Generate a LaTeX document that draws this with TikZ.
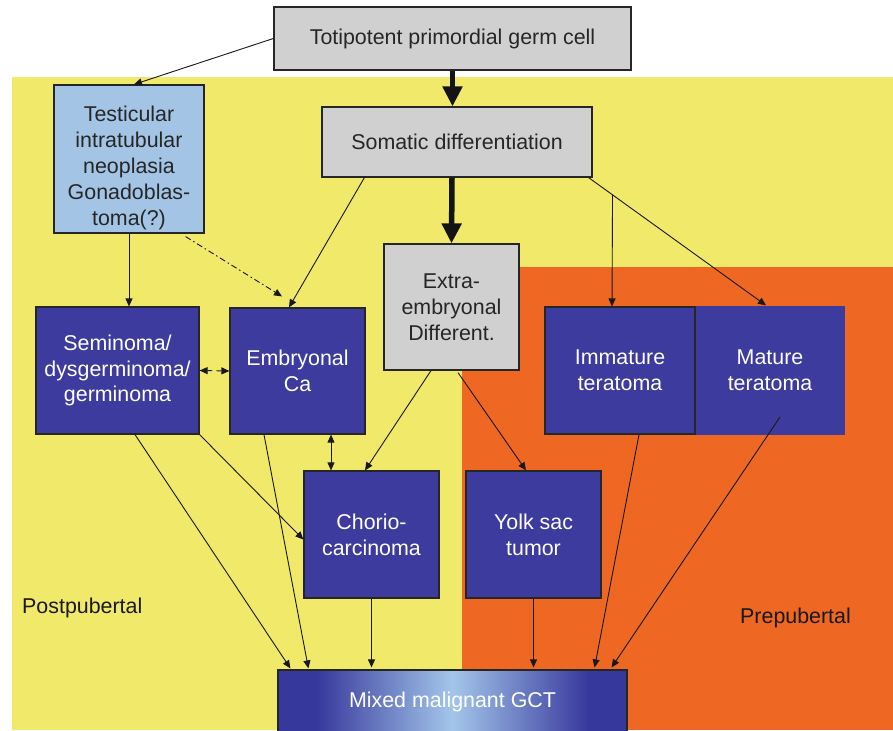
\documentclass[tikz,border=0pt]{standalone}
\usepackage{fontspec}
\setmainfont{Liberation Sans}
\usetikzlibrary{arrows.meta,calc}
\definecolor{ylw}{HTML}{F0E96A}
\definecolor{org}{HTML}{EE6723}
\definecolor{dkb}{HTML}{3E3B9F}
\definecolor{gry}{HTML}{CFD0CF}
\definecolor{ltb}{HTML}{A4C4E6}
\definecolor{mixl}{HTML}{A3C6EA}
\definecolor{mixd}{HTML}{37389C}
\definecolor{edge}{HTML}{262626}
\pgfdeclarehorizontalshading{mixshade}{100bp}{color(0bp)=(mixd); color(30.5bp)=(mixd); color(50bp)=(mixl); color(69.5bp)=(mixd); color(100bp)=(mixd)}
\begin{document}
\begin{tikzpicture}[x=1pt,y=-1pt,
  box/.style={draw=edge,line width=1.2pt,rectangle,inner sep=0pt,align=center,font=\fontsize{21.4}{25.8}\selectfont},
  gbox/.style={box,fill=gry,text=black!85},
  bbox/.style={box,fill=dkb,text=white},
  lbl/.style={font=\fontsize{21.4}{25.8}\selectfont,text=black!90,inner sep=0pt},
  arr/.style={-{Triangle[length=8pt,width=7pt]},line width=0.9pt,draw=black!90},
  darr/.style={{Triangle[length=8pt,width=7pt]}-{Triangle[length=8pt,width=7pt]},line width=0.9pt,draw=black!90},
  bigarr/.style={-{Triangle[length=20pt,width=19pt]},line width=5.5pt,draw=black!92}]
\useasboundingbox (0,0) rectangle (893,730);
\fill[white] (0,0) rectangle (893,730);
\fill[ylw] (12,77) rectangle (893,730);
\fill[org] (462,267) rectangle (893,730);

\node[gbox,minimum width=357pt,minimum height=63pt] (top) at (452.5,38.5) {\raisebox{-2pt}{Totipotent primordial germ cell}};
\node[gbox,minimum width=270pt,minimum height=70pt] (som) at (457,142) {\raisebox{-1pt}{Somatic differentiation}};
\node[box,fill=ltb,minimum width=150pt,minimum height=148pt] (tes) at (129,159) {};
\node[lbl,align=center,text=black!85] (testxt) at ([yshift=-9pt]tes.center) {Testicular\\intratubular\\neoplasia\\Gonadoblas-\\toma(?)};
\node[gbox,minimum width=135pt,minimum height=126pt] (ext) at (451.5,307) {Extra-\\embryonal\\Different.};
\node[bbox,minimum width=163pt,minimum height=127pt] (sem) at (117.5,370.5) {Seminoma/\\dysgerminoma/\\germinoma};
\node[bbox,minimum width=135pt,minimum height=126pt] (emb) at (297.5,371) {Embryonal\\Ca};
\node[bbox,draw=none,minimum width=150pt,minimum height=129pt] (mat) at (770,370.5) {Mature\\teratoma};
\node[bbox,minimum width=150pt,minimum height=127pt] (imm) at (620,370.5) {Immature\\teratoma};
\node[bbox,minimum width=135pt,minimum height=127pt] (cho) at (371.5,534.5) {Chorio-\\carcinoma};
\node[bbox,minimum width=135pt,minimum height=127pt] (yolk) at (533.5,534.5) {Yolk sac\\tumor};
\node[box,shading=mixshade,text=white,minimum width=349pt,minimum height=64pt] (mix) at (452.5,702) {Mixed malignant GCT};

\node[lbl,anchor=west] (post) at (22,608) {Postpubertal};
\node[lbl,anchor=west] (pre) at (740,618) {Prepubertal};

% thick arrows
\draw[bigarr] (top.south) -- (top.south |- som.north);
\draw[bigarr] ([xshift=-5pt]som.south) -- (ext.north);

% thin arrows
\draw[arr] (top.west) -- ([xshift=5pt]tes.north);
\draw[arr] ([xshift=43pt]som.south west) -- ([xshift=-8.5pt]emb.north);
\coordinate (s1) at ([xshift=-4pt]som.south east);
\coordinate (m1) at ([xshift=-4pt]mat.north);
\draw[arr] (s1) -- (m1);
\path (s1) -- (m1) coordinate[pos=0.135] (br);
\draw[arr] (br) -- ([xshift=-8pt]imm.north);
\draw[arr] (tes.south) -- (tes.south |- sem.north);
\draw[arr,dash pattern=on 6pt off 3pt on 1.5pt off 3pt] ([xshift=-19pt,yshift=-3pt]tes.south east) -- ([xshift=-15.5pt,yshift=11pt]emb.north);
\draw[darr,dash pattern=on 5pt off 4pt] (sem.east) -- (emb.west);
\draw[darr] ([xshift=33.5pt]emb.south) -- ([xshift=33.5pt]emb.south |- cho.north);
\draw[arr] ([xshift=-20.5pt]ext.south) -- ([xshift=-6.5pt]cho.north);
\draw[arr] ([xshift=6.5pt,yshift=-2pt]ext.south) -- ([xshift=-7.5pt]yolk.north);
\draw[arr] ([xshift=17.5pt]sem.south) -- ([xshift=13pt,yshift=1pt]mix.north west);
\draw[arr] (sem.south east) -- ([yshift=-5pt]cho.west);
\draw[arr] ([xshift=-33.5pt]emb.south) -- ([xshift=31pt,yshift=1pt]mix.north west);
\draw[arr] (cho.south) -- ([yshift=2pt]cho.south |- mix.north);
\draw[arr] (yolk.south) -- ([yshift=2pt]yolk.south |- mix.north);
\draw[arr] ([xshift=19pt]imm.south) -- ([xshift=-33pt,yshift=2pt]mix.north east);
\draw[arr] ([xshift=10pt,yshift=-46.5pt]mat.center) -- ([xshift=-16pt,yshift=2pt]mix.north east);
\end{tikzpicture}
\end{document}
